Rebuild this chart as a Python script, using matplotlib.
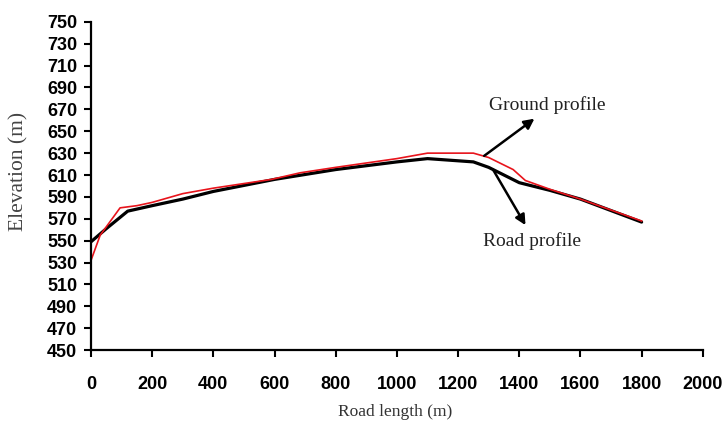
import numpy as np
import matplotlib.pyplot as plt
from matplotlib import font_manager

# road profile vs ground profile
road_x = [0, 50, 120, 200, 300, 400, 600, 800, 1000, 1100, 1250, 1300, 1350, 1400, 1500, 1600, 1800]
road_y = [549, 561, 577, 582, 588, 595, 606, 615, 622, 625, 622, 617, 610, 603, 596, 588, 567]

ground_x = [0, 30, 95, 150, 200, 300, 400, 590, 683, 800, 1000, 1100, 1250, 1300, 1380, 1420, 1500, 1600, 1800]
ground_y = [532, 555, 580, 582, 585, 593, 598, 606, 612, 617, 625, 630, 630, 626, 615, 605, 597, 588, 568]

x_ticks = list(range(0, 2001, 200))
y_ticks = list(range(450, 751, 20))

# narrow sans for tick numbers if there is one
names = {f.name for f in font_manager.fontManager.ttflist}
tick_family = 'Liberation Sans Narrow' if 'Liberation Sans Narrow' in names else 'Liberation Sans'

fig = plt.figure(figsize=(7.24, 4.28), dpi=100)
ax = fig.add_axes([0.1257, 0.182, 0.845, 0.767])

ax.plot(road_x, road_y, color='black', linewidth=2.3, solid_capstyle='round')
ax.plot(ground_x, ground_y, color='#e8141c', linewidth=1.2)

ax.set_xlim(0, 2000)
ax.set_ylim(450, 750)
ax.set_xticks(x_ticks)
ax.set_yticks(y_ticks)

tick_font = dict(family=tick_family, weight='bold', size=13)
ax.set_xticklabels([str(t) for t in x_ticks], fontdict=tick_font)
ax.set_yticklabels([str(t) for t in y_ticks], fontdict=tick_font)
ax.tick_params(direction='out', length=5, width=1.5, colors='black', pad=3)
ax.tick_params(axis='y', pad=5)
ax.tick_params(axis='x', pad=14)

for s in ['top', 'right']:
    ax.spines[s].set_visible(False)
for s in ['left', 'bottom']:
    ax.spines[s].set_linewidth(1.6)

ax.set_xlabel('Road length (m)', family='Liberation Serif', fontsize=12.5, color='#333333')
ax.set_ylabel('Elevation (m)', family='Liberation Serif', fontsize=15.5, color='#444444')
ax.xaxis.set_label_coords(0.497, -0.165)
ax.yaxis.set_label_coords(-0.103, 0.543)

# arrow annotations
ax.annotate('', xy=(1457, 663), xytext=(1278, 626),
            arrowprops=dict(arrowstyle='-|>', color='black', lw=1.8, mutation_scale=15))
ax.text(1490, 674, 'Ground profile', family='Liberation Serif', fontsize=14, color='#222222',
        ha='center', va='center')
ax.annotate('', xy=(1425, 562), xytext=(1310, 617),
            arrowprops=dict(arrowstyle='-|>', color='black', lw=1.8, mutation_scale=15))
ax.text(1441, 550, 'Road profile', family='Liberation Serif', fontsize=14, color='#222222',
        ha='center', va='center')

fig.savefig('out.png', dpi=100)
